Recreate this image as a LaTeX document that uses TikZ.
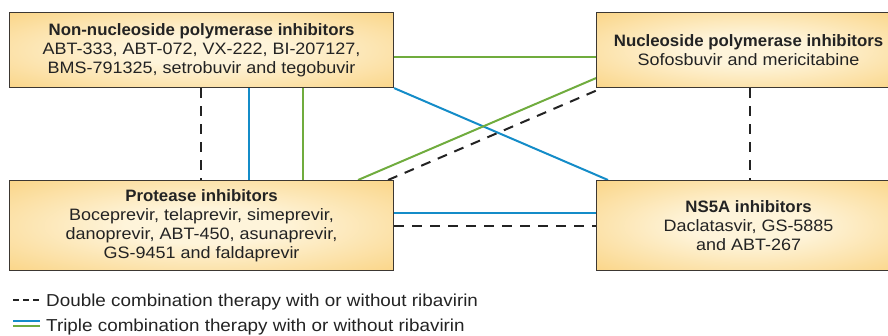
\documentclass[tikz,border=0pt]{standalone}
\usepackage{fontspec}
\setmainfont{Liberation Sans}[FakeStretch=1.09]
\newfontfamily\titlefont{Liberation Sans}[FakeStretch=1.02]
\usetikzlibrary{backgrounds}
\definecolor{cin}{RGB}{254,244,218}
\definecolor{cout}{RGB}{248,194,84}
\definecolor{lblue}{RGB}{20,140,200}
\definecolor{lgreen}{RGB}{112,172,62}
\definecolor{ldark}{RGB}{35,35,35}
\definecolor{bord}{RGB}{60,55,50}
\pgfdeclareradialshading{boxshade}{\pgfpoint{0bp}{0bp}}{color(0bp)=(cin); color(10bp)=(cin); color(52bp)=(cout); color(72bp)=(cout)}
\newcommand{\ttl}[1]{{\titlefont\bfseries #1}}
\begin{document}
\begin{tikzpicture}[x=1pt,y=1pt,
  drug/.style={draw=bord, line width=1.1pt, shading=boxshade, inner sep=0pt, align=center,
    font=\fontsize{16.5}{19}\selectfont, text=ldark, anchor=north west},
  legtext/.style={font=\fontsize{17.3}{19}\selectfont, text=ldark, anchor=base west, inner sep=0pt},
  dbl/.style={ldark, line width=2pt, dash pattern=on 10pt off 8pt},
  legdbl/.style={ldark, line width=2pt, dash pattern=on 5.5pt off 4.5pt},
  trb/.style={lblue, line width=2pt},
  trg/.style={lgreen, line width=2pt}]
\useasboundingbox (0,0) rectangle (888,335);
\begin{scope}
\clip (0,0) rectangle (888,335);
\node[drug, minimum width=384, minimum height=75] (a) at (9,323)
  {\ttl{Non-nucleoside polymerase inhibitors}\\ABT-333, ABT-072, VX-222, BI-207127,\\BMS-791325, setrobuvir and tegobuvir};
\node[drug, minimum width=304, minimum height=75] (b) at (596,323)
  {\ttl{Nucleoside polymerase inhibitors}\\Sofosbuvir and mericitabine};
\node[drug, minimum width=384, minimum height=90] (c) at (9,155)
  {\ttl{Protease inhibitors}\\Boceprevir, telaprevir, simeprevir,\\danoprevir, ABT-450, asunaprevir,\\GS-9451 and faldaprevir};
\node[drug, minimum width=304, minimum height=90] (d) at (596,155)
  {\ttl{NS5A inhibitors}\\Daclatasvir, GS-5885\\and ABT-267};
\begin{scope}[on background layer]
\draw[dbl] ([xshift=192]a.south west) -- ([xshift=192]c.north west);
\draw[trb] ([xshift=240]a.south west) -- ([xshift=240]c.north west);
\draw[trg] ([xshift=294]a.south west) -- ([xshift=294]c.north west);
\draw[trb] (a.south east) -- ([xshift=12]d.north west);
\draw[trg] ([xshift=-36]c.north east) -- ([yshift=10]b.south west);
\draw[dbl] ([xshift=-6]c.north east) -- ([xshift=6]b.south west);
\draw[trg] ([yshift=-7]a.east) -- ([yshift=-7]b.west);
\draw[trb] ([yshift=13]c.east) -- ([yshift=13]d.west);
\draw[dbl] (c.east) -- (d.west);
\draw[dbl] ([xshift=154]b.south west) -- ([xshift=154]d.north west);
\end{scope}
\end{scope}
% legend
\coordinate (l1s) at (13,35);
\coordinate (l1e) at (40,35);
\coordinate (l2s) at (13,14);
\coordinate (l2e) at (40,14);
\coordinate (l3s) at (13,9);
\coordinate (l3e) at (40,9);
\draw[legdbl] (l1s) -- (l1e);
\draw[trb] (l2s) -- (l2e);
\draw[trg] (l3s) -- (l3e);
\node[legtext] (t1) at (46,29) {Double combination therapy with or without ribavirin};
\node[legtext] (t2) at (46,4) {Triple combination therapy with or without ribavirin};
\end{tikzpicture}
\end{document}
